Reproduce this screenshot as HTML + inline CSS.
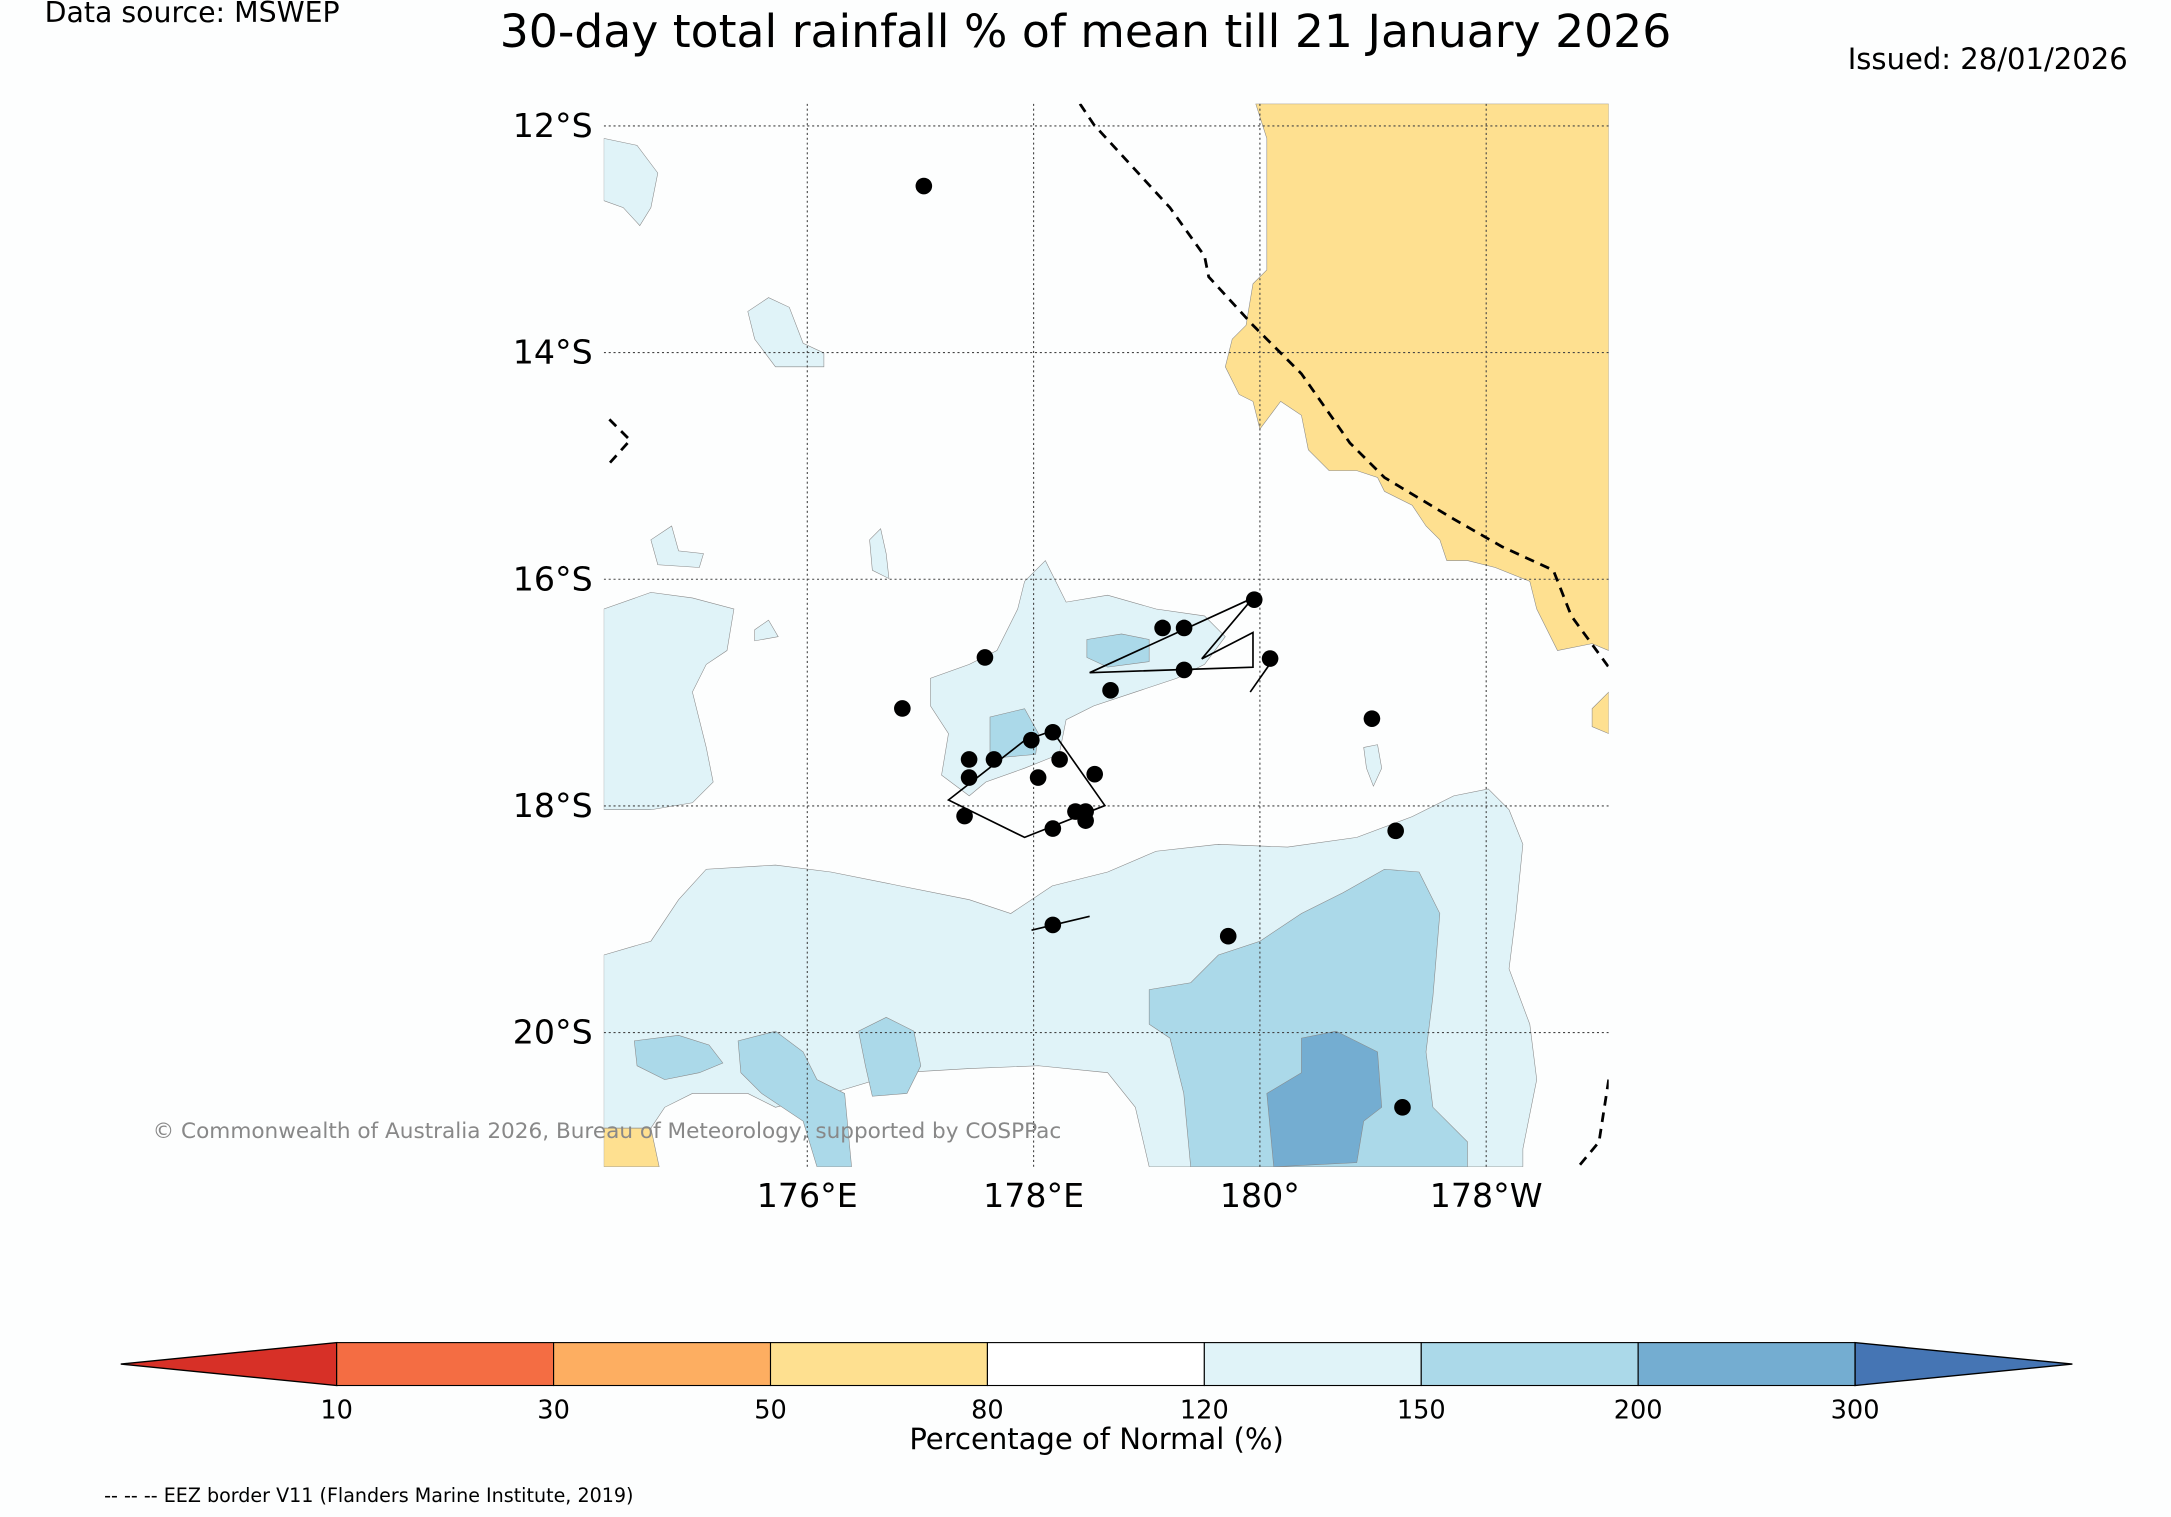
<!DOCTYPE html>
<html><head><meta charset="utf-8"><style>
html,body{margin:0;padding:0;background:#fdfefe;}
svg{display:block;font-family:"DejaVu Sans","Liberation Sans",sans-serif;}
</style></head><body>
<svg id="chart" width="2171" height="1517" viewBox="0 0 1568 1096" xmlns="http://www.w3.org/2000/svg">
<rect width="1568" height="1096" fill="#fdfefe"/>
<text x="32" y="16" font-size="20.5">Data source: MSWEP</text>
<text x="784" y="34" font-size="33" text-anchor="middle">30-day total rainfall % of mean till 21 January 2026</text>
<text x="1537" y="50" font-size="21" text-anchor="end">Issued: 28/01/2026</text>
<defs><clipPath id="mapclip"><rect x="436" y="75" width="726" height="768"/></clipPath></defs>
<g id="map" clip-path="url(#mapclip)">
<rect x="436" y="75" width="726" height="768" fill="#fdfefe"/>
<g stroke="#888" stroke-width="0.4">
<path fill="#fee090" d="M907,75 L1162,75 L1162,470 L1150,465 L1125,470 L1110,440 L1105,420 L1080,410 L1060,405 L1045,405 L1040,390 L1030,380 L1020,365 L1000,355 L995,345 L980,340 L960,340 L945,325 L940,300 L925,290 L910,310 L905,290 L895,285 L885,265 L890,245 L900,235 L905,205 L915,195 L915,100 Z"/>
<path fill="#fee090" d="M1162,500 L1150,512 L1150,525 L1162,530 Z"/>
<path fill="#fee090" d="M436,815 L470,815 L476,843 L436,843 Z"/>
<path fill="#e0f3f8" d="M436,690 L470,680 L490,650 L510,628 L560,625 L600,630 L650,640 L700,650 L730,660 L760,640 L800,630 L835,615 L880,610 L930,612 L980,605 L1020,590 L1050,575 L1075,570 L1090,585 L1100,610 L1095,660 L1090,700 L1105,740 L1110,780 L1100,830 L1100,843 L830,843 L820,800 L800,775 L750,770 L700,772 L650,775 L600,790 L560,800 L540,790 L500,790 L480,800 L470,815 L436,815 Z"/>
<path fill="#e0f3f8" d="M436,440 L470,428 L500,432 L530,440 L525,470 L510,480 L500,500 L510,540 L515,565 L500,580 L470,585 L436,585 Z"/>
<path fill="#e0f3f8" d="M672,490 L700,480 L720,470 L735,440 L740,420 L755,405 L770,435 L800,430 L835,440 L870,445 L885,460 L870,480 L850,490 L820,500 L790,510 L770,520 L765,545 L740,555 L712,565 L700,575 L680,560 L685,530 L672,510 Z"/>
<path fill="#e0f3f8" d="M436,100 L460,105 L475,125 L470,150 L462,163 L450,150 L436,145 Z"/>
<path fill="#e0f3f8" d="M540,225 L555,215 L570,222 L580,248 L595,255 L595,265 L560,265 L545,245 Z"/>
<path fill="#e0f3f8" d="M470,390 L485,380 L490,398 L508,400 L505,410 L475,408 Z"/>
<path fill="#e0f3f8" d="M545,455 L555,448 L562,460 L545,463 Z"/>
<path fill="#e0f3f8" d="M628,390 L636,382 L640,400 L642,418 L630,412 Z"/>
<path fill="#e0f3f8" d="M985,540 L995,538 L998,555 L992,568 L987,555 Z"/>
<path fill="#abd9e9" d="M830,715 L860,710 L880,690 L910,680 L940,660 L970,645 L1000,628 L1025,630 L1040,660 L1035,720 L1030,760 L1035,800 L1060,825 L1060,843 L860,843 L855,790 L845,750 L830,740 Z"/>
<path fill="#abd9e9" d="M458,752 L490,748 L512,755 L522,768 L505,775 L480,780 L460,770 Z"/>
<path fill="#abd9e9" d="M533,752 L560,745 L580,760 L590,780 L610,790 L615,843 L590,843 L580,810 L550,790 L535,775 Z"/>
<path fill="#abd9e9" d="M620,745 L640,735 L660,745 L665,770 L655,790 L630,792 L625,770 Z"/>
<path fill="#abd9e9" d="M715,518 L740,512 L750,530 L748,545 L715,548 Z"/>
<path fill="#abd9e9" d="M785,462 L810,458 L830,462 L830,478 L800,482 L785,475 Z"/>
<path fill="#74add1" d="M940,750 L965,745 L995,760 L998,800 L985,810 L980,840 L920,843 L915,790 L940,775 Z"/>
</g>
<g stroke="#444" stroke-width="0.8" stroke-dasharray="1.5,2" id="grid"></g>
<g fill="none" stroke="#000" stroke-width="2" stroke-dasharray="7,5">
<polyline points="780,75 790,90 845,150 870,185 873,200 905,235 940,270 975,320 1000,345 1050,375 1085,395 1122,412 1135,445 1162,482"/>
<polyline points="440,303 455,318 438,337"/>
<polyline points="1162,780 1155,825 1140,843"/>
</g>
<g fill="none" stroke="#000" stroke-width="1.2">
<polygon points="685,578 740,535 760,528 798,582 740,605"/>
<polygon points="787,486 905,432 868,476 905,457 905,482"/>
<line x1="917" y1="480" x2="903" y2="500"/>
<line x1="745" y1="672" x2="787" y2="662"/>
</g>
<g id="stations"></g>
</g>
<g id="axislabels" font-size="24"></g>
<text x="110" y="822" font-size="15.6" fill="#888">© Commonwealth of Australia 2026, Bureau of Meteorology, supported by COSPPac</text>
<g id="colorbar"></g>
<text x="792" y="1047" font-size="21" text-anchor="middle">Percentage of Normal (%)</text>
<text x="75" y="1085" font-size="13.8">-- -- -- EEZ border V11 (Flanders Marine Institute, 2019)</text>
</svg>
<script>
const NS="http://www.w3.org/2000/svg";
const stationLon=[177.03,179.95,179.14,179.33,180.09,177.57,179.33,178.68,176.84,180.99,178.17,177.98,177.43,177.65,178.23,177.43,178.04,178.54,178.37,178.46,178.46,177.39,178.17,181.20,178.17,179.72,181.26];
const stationLat=[-12.53,-16.18,-16.43,-16.43,-16.70,-16.69,-16.80,-16.98,-17.14,-17.23,-17.35,-17.42,-17.59,-17.59,-17.59,-17.75,-17.75,-17.72,-18.05,-18.05,-18.13,-18.09,-18.20,-18.22,-19.05,-19.15,-20.66];
const latTicks=[-12,-14,-16,-18,-20];
const latLabels=["12°S","14°S","16°S","18°S","20°S"];
const lonTicks=[176,178,180,182];
const lonLabels=["176°E","178°E","180°","178°W"];
const cbBounds=[10,30,50,80,120,150,200,300];
const cbColors=["#f46d43","#fdae61","#fee090","#ffffff","#e0f3f8","#abd9e9","#74add1"];
const xLon=lon=>583+(lon-176)*81.75;
const yLat=lat=>91+(-12-lat)*81.875;
function mk(tag,attrs,parent){const e=document.createElementNS(NS,tag);for(const k in attrs)e.setAttribute(k,attrs[k]);parent.appendChild(e);return e;}
const grid=document.getElementById('grid');
latTicks.forEach(t=>{const l=mk('line',{x1:436,x2:1162,y1:yLat(t),y2:yLat(t)},grid);

});
lonTicks.forEach(t=>{const l=mk('line',{y1:75,y2:843,x1:xLon(t),x2:xLon(t)},grid);

});
const ax=document.getElementById('axislabels');
latTicks.forEach((t,i)=>{const e=mk('text',{x:428,y:yLat(t)+8,'text-anchor':'end'},ax);e.textContent=latLabels[i];

});
lonTicks.forEach((t,i)=>{const e=mk('text',{x:xLon(t),y:872,'text-anchor':'middle'},ax);e.textContent=lonLabels[i];

});
const st=document.getElementById('stations');
stationLon.forEach((lon,i)=>{const c=mk('circle',{cx:xLon(lon),cy:yLat(stationLat[i]),r:6,fill:'#000'},st);

});
const cb=document.getElementById('colorbar');
const cbX0=243,cbX1=1340,cbY=970,cbH=31;
const seg=(cbX1-cbX0)/cbColors.length;
const lt=mk('polygon',{points:`${cbX0},${cbY} ${cbX0},${cbY+cbH} 87,${cbY+cbH/2}`,fill:'#d73027',stroke:'#000','stroke-width':1},cb);


cbColors.forEach((c,i)=>{const r=mk('rect',{x:cbX0+i*seg,y:cbY,width:seg,height:cbH,fill:c,stroke:'#000','stroke-width':0.8},cb);

});
const rt=mk('polygon',{points:`${cbX1},${cbY} ${cbX1},${cbY+cbH} 1497,${cbY+cbH/2}`,fill:'#4575b4',stroke:'#000','stroke-width':1},cb);


cbBounds.forEach((b,i)=>{const t=mk('text',{x:cbX0+i*seg,y:1025,'font-size':18.5,'text-anchor':'middle'},cb);t.textContent=b;

});
</script>
</body></html>
